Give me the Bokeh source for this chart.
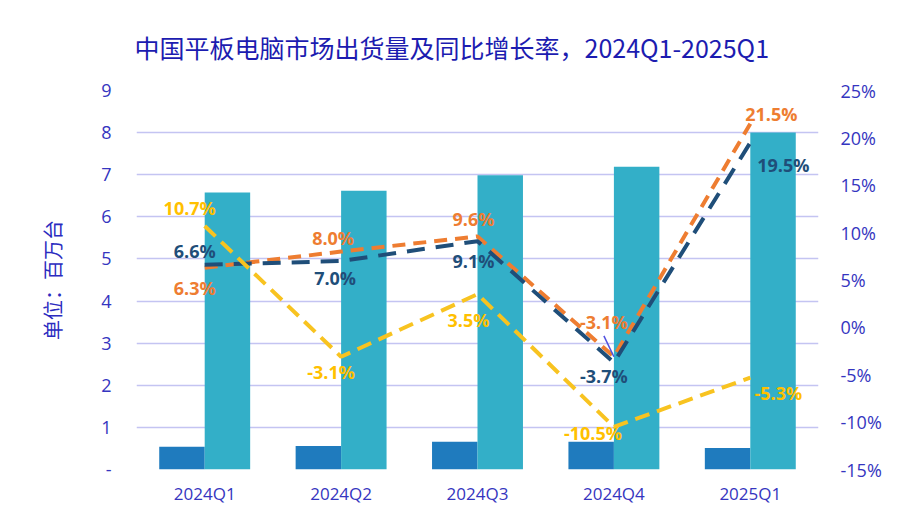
from bokeh.plotting import figure
from bokeh.models import (ColumnDataSource, FactorRange, Range1d, LinearAxis,
                          FixedTicker, PrintfTickFormatter)
from bokeh.transform import dodge
from bokeh.core.properties import value
from bokeh.embed import file_html
from bokeh.resources import INLINE

# ---- data ----
quarters = ["2024Q1", "2024Q2", "2024Q3", "2024Q4", "2025Q1"]
ship_small = [0.54, 0.56, 0.66, 0.66, 0.51]      # dark blue bars (百万台)
ship_total = [6.58, 6.62, 6.99, 7.19, 8.0]       # teal bars (百万台)
yoy_orange = [6.3, 8.0, 9.6, -3.1, 21.5]         # %
yoy_navy = [6.6, 7.0, 9.1, -3.7, 19.5]           # %
yoy_yellow = [10.7, -3.1, 3.5, -10.5, -5.3]      # %
left_ticks = [0, 1, 2, 3, 4, 5, 6, 7, 8, 9]
right_ticks = [-15, -10, -5, 0, 5, 10, 15, 20, 25]

title_text = "中国平板电脑市场出货量及同比增长率，2024Q1-2025Q1"
ylabel_text = "单位：百万台"

# label placement (screen px offsets, layout only)
off_orange = [(-10, 20), (-8, -14), (-4, -17), (-10, -35), (21, -10)]
off_navy = [(-10, -14), (-6, 17), (-4, 20), (-10, 14), (33, 22)]
off_yellow = [(-15, -18), (-10, 15), (-9, 26), (-21, 6), (28, 15)]

C_DARK = "#1F7BBE"
C_TEAL = "#33AFC8"
C_ORANGE = "#EE7D31"
C_NAVY = "#1F4E79"
C_YELLOW = "#F8C320"
C_YELLOW_T = "#FFC000"
C_AXIS = "#3535C0"
C_TITLE = "#1C1CB0"

p = figure(width=903, height=509, output_backend="svg", toolbar_location=None,
           x_range=FactorRange(*quarters, range_padding=0),
           y_range=Range1d(0, 9),
           min_border_left=136, min_border_right=85,
           min_border_top=89, min_border_bottom=40,
           title=title_text)
p.extra_y_ranges = {"pct": Range1d(-15, 25)}
p.outline_line_color = None
p.background_fill_color = "white"
p.border_fill_color = "white"

p.title.text_font = "Noto Sans CJK SC"
p.title.text_font_size = "25px"
p.title.text_font_style = "normal"
p.title.text_color = C_TITLE
p.title.align = "left"
p.title.offset = -2
p.title.standoff = 52

# grid
p.xgrid.grid_line_color = None
p.ygrid.grid_line_color = "#C4C4F2"
p.ygrid.grid_line_width = 1.6
p.ygrid.ticker = FixedTicker(ticks=left_ticks)

# left axis
ya = p.yaxis[0]
ya.ticker = FixedTicker(ticks=left_ticks)
ya.major_label_overrides = {0: "-"}
ya.axis_line_color = None
ya.major_tick_line_color = None
ya.minor_tick_line_color = None
ya.major_label_standoff = 19
ya.major_label_text_font = "Open Sans"
ya.major_label_text_font_size = "18px"
ya.major_label_text_color = C_AXIS
ya.axis_label = ylabel_text
ya.axis_label_text_font = "Noto Sans CJK SC"
ya.axis_label_text_font_size = "20px"
ya.axis_label_text_font_style = "normal"
ya.axis_label_text_color = "#2B2BC0"
ya.axis_label_standoff = 31

# right axis
ra = LinearAxis(y_range_name="pct", ticker=FixedTicker(ticks=right_ticks),
                formatter=PrintfTickFormatter(format="%d%%"))
ra.axis_line_color = None
ra.major_tick_line_color = None
ra.minor_tick_line_color = None
ra.major_label_standoff = 16
ra.major_label_text_font = "Open Sans"
ra.major_label_text_font_size = "18px"
ra.major_label_text_color = C_AXIS
p.add_layout(ra, "right")

# bottom axis
xa = p.xaxis[0]
xa.axis_line_color = None
xa.major_tick_line_color = None
xa.minor_tick_line_color = None
xa.major_label_standoff = 6
xa.major_label_text_font = "Open Sans"
xa.major_label_text_font_size = "17px"
xa.major_label_text_color = C_AXIS

# bars
bars = ColumnDataSource(dict(q=quarters, small=ship_small, total=ship_total))
p.vbar(x=dodge("q", -1/6, range=p.x_range), top="small", width=1/3,
       source=bars, color=C_DARK, line_color=None)
p.vbar(x=dodge("q", 1/6, range=p.x_range), top="total", width=1/3,
       source=bars, color=C_TEAL, line_color=None)

# lines
p.line(quarters, yoy_orange, y_range_name="pct", line_color=C_ORANGE,
       line_width=4, line_dash="13 8")
p.line(quarters, yoy_navy, y_range_name="pct", line_color=C_NAVY,
       line_width=4, line_dash="18 11")
p.line(quarters, yoy_yellow, y_range_name="pct", line_color=C_YELLOW,
       line_width=4, line_dash="15 8")


def add_labels(vals, offs, color):
    src = ColumnDataSource(dict(
        q=quarters, v=vals, t=["%.1f%%" % v for v in vals],
        dx=[o[0] for o in offs], dy=[o[1] for o in offs]))
    p.text(x="q", y="v", text="t", x_offset="dx", y_offset="dy", source=src,
           y_range_name="pct", text_align="center", text_baseline="middle",
           text_font=value("Open Sans"), text_font_style="bold",
           text_font_size="18px", text_color=color)


add_labels(yoy_orange, off_orange, C_ORANGE)
add_labels(yoy_navy, off_navy, C_NAVY)
add_labels(yoy_yellow, off_yellow, C_YELLOW_T)

# leader line for the 2024Q4 orange label
lead = ColumnDataSource(dict(q=[quarters[3]], y0=[yoy_orange[3] + 21 / 9.5],
                             y1=[yoy_orange[3]]))
p.segment(x0=dodge("q", -10 / 136.4, range=p.x_range), y0="y0",
          x1="q", y1="y1", source=lead, y_range_name="pct",
          line_color="#5050E0", line_width=1.5)

open("out.html", "w").write(file_html(p, INLINE))
